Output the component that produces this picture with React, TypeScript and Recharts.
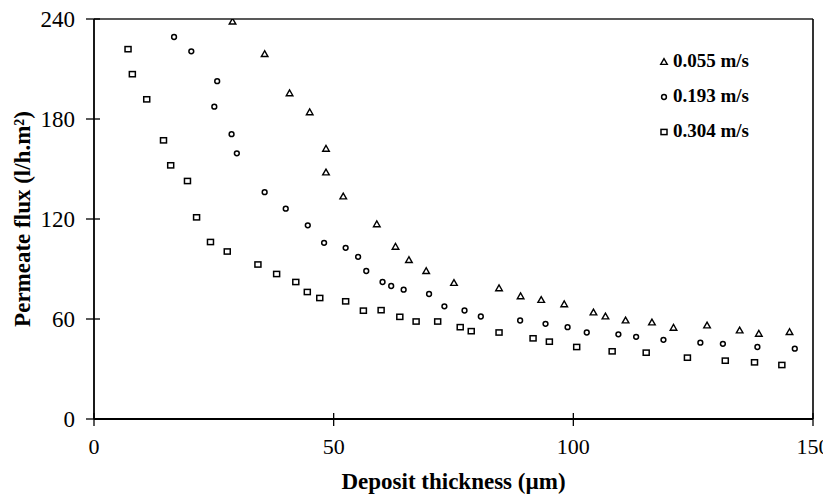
import React from 'react';
import { ScatterChart, Scatter, XAxis, YAxis, ReferenceLine, Legend } from 'recharts';

const xTicks = [0, 50, 100, 150];
const yTicks = [0, 60, 120, 180, 240];
const seriesNames = ['0.055 m/s', '0.193 m/s', '0.304 m/s'];

const v055X = [28.9, 35.6, 40.8, 45.0, 48.4, 48.4, 52.0, 59.0, 62.9, 65.7, 69.3, 75.1, 84.5, 89.0, 93.3, 98.1, 104.2, 106.7, 110.9, 116.4, 120.9, 127.9, 134.7, 138.7, 145.1];
const v055Y = [238.4, 218.9, 195.4, 184.0, 162.1, 147.9, 133.5, 116.8, 103.3, 95.3, 88.7, 81.6, 78.4, 73.6, 71.4, 68.8, 63.9, 61.5, 59.1, 57.9, 54.7, 56.1, 53.1, 51.1, 52.1];

const v193X = [16.7, 20.3, 25.7, 25.1, 28.7, 29.8, 35.6, 40.0, 44.6, 48.0, 52.5, 55.1, 56.8, 60.2, 62.0, 64.6, 69.9, 73.1, 77.3, 80.7, 88.9, 94.2, 98.8, 102.8, 109.4, 113.1, 118.8, 126.5, 131.2, 138.4, 146.2];
const v193Y = [229.2, 220.6, 202.7, 187.4, 170.9, 159.4, 136.1, 126.2, 116.2, 105.7, 102.7, 97.3, 88.8, 82.2, 79.8, 77.6, 75.0, 67.6, 65.1, 61.5, 59.1, 57.1, 55.1, 51.9, 50.8, 49.3, 47.5, 45.8, 45.1, 43.2, 42.2];

const v304X = [7.1, 8.0, 11.0, 14.5, 16.0, 19.5, 21.4, 24.3, 27.8, 34.2, 38.1, 42.1, 44.5, 47.1, 52.5, 56.2, 59.9, 63.8, 67.2, 71.7, 76.4, 78.7, 84.5, 91.6, 95.0, 100.7, 108.1, 115.2, 123.8, 131.7, 137.8, 143.5];
const v304Y = [221.9, 206.9, 191.8, 167.2, 152.2, 142.8, 121.0, 106.2, 100.5, 92.7, 87.0, 82.2, 76.2, 72.6, 70.6, 65.0, 65.3, 61.3, 58.5, 58.5, 55.1, 52.7, 51.9, 48.4, 46.4, 43.2, 40.6, 39.8, 36.8, 35.0, 34.0, 32.4];

const toPoints = (xs: number[], ys: number[]) => xs.map((x, i) => ({ x, y: ys[i] }));
const data055 = toPoints(v055X, v055Y);
const data193 = toPoints(v193X, v193Y);
const data304 = toPoints(v304X, v304Y);

const FONT = '"Liberation Serif", "Times New Roman", serif';

const Marker = ({ kind, cx, cy }: { kind: string; cx: number; cy: number }) => {
  if (kind === 'triangle') {
    return (
      <path
        d={`M${cx},${cy - 3.4} L${cx - 3.3},${cy + 2.4} L${cx + 3.3},${cy + 2.4} Z`}
        fill="none"
        stroke="#000"
        strokeWidth={1.4}
      />
    );
  }
  if (kind === 'circle') {
    return <circle cx={cx} cy={cy} r={2.4} fill="none" stroke="#000" strokeWidth={1.5} />;
  }
  return <rect x={cx - 3} y={cy - 2.6} width={6} height={5.2} fill="none" stroke="#000" strokeWidth={1.5} />;
};

const kindByName: Record<string, string> = {
  '0.055 m/s': 'triangle',
  '0.193 m/s': 'circle',
  '0.304 m/s': 'square',
};

const YTick = (props: any) => {
  const { x, y, payload } = props;
  return (
    <g>
      <line x1={x - 8} x2={x + 6} y1={y} y2={y} stroke="#000" strokeWidth={1.3} />
      <text x={x - 19} y={y} dy="0.35em" textAnchor="end" fontFamily={FONT} fontSize={23} fill="#000">
        {payload.value}
      </text>
    </g>
  );
};

const XTick = (props: any) => {
  const { x, y, payload } = props;
  return (
    <g>
      <line x1={x} x2={x} y1={y - 6} y2={y + 7} stroke="#000" strokeWidth={1.3} />
      <text x={x} y={y + 35} textAnchor="middle" fontFamily={FONT} fontSize={22} fill="#000">
        {payload.value}
      </text>
    </g>
  );
};

const LegendContent = (props: any) => {
  const payload = (props.payload || []) as any[];
  return (
    <svg width={140} height={100}>
      {payload.map((entry: any, i: number) => {
        const cy = 12 + i * 35;
        return (
          <g key={String(entry.value)}>
            <Marker kind={kindByName[String(entry.value)]} cx={8} cy={cy + 2} />
            <text x={17} y={cy} dy="0.35em" fontFamily={FONT} fontWeight="bold" fontSize={19} fill="#000">
              {entry.value}
            </text>
          </g>
        );
      })}
    </svg>
  );
};

export default function App() {
  return (
    <ScatterChart
      width={823}
      height={492}
      margin={{ top: 11, right: 18, left: 0, bottom: 0 }}
      style={{ fontFamily: FONT }}
    >
      <XAxis
        type="number"
        dataKey="x"
        domain={[0, 150]}
        ticks={xTicks}
        height={81}
        tickSize={0}
        tickMargin={0}
        tickLine={false}
        tick={<XTick />}
        axisLine={{ stroke: '#000', strokeWidth: 1.8 }}
        allowDataOverflow
        label={{
          value: 'Deposit  thickness (\u00b5m)',
          position: 'insideBottom',
          offset: 11,
          style: { fontFamily: FONT, fontWeight: 'bold', fontSize: 23, fill: '#000' },
        }}
      />
      <YAxis
        type="number"
        dataKey="y"
        domain={[0, 240]}
        ticks={yTicks}
        width={86}
        tickSize={0}
        tickMargin={0}
        tickLine={false}
        tick={<YTick />}
        axisLine={{ stroke: '#000', strokeWidth: 1.8 }}
        allowDataOverflow
        label={{
          value: 'Permeate flux (l/h.m\u00b2)',
          angle: -90,
          position: 'insideLeft',
          offset: 14,
          style: { textAnchor: 'middle', fontFamily: FONT, fontWeight: 'bold', fontSize: 23, fill: '#000' },
        }}
      />
      <ReferenceLine y={240} stroke="#222" strokeWidth={1.3} />
      <ReferenceLine x={150} stroke="#000" strokeWidth={1.6} />
      <Legend
        layout="vertical"
        align="center"
        verticalAlign="middle"
        content={<LegendContent />}
        wrapperStyle={{ left: 648, top: 40, width: 140, height: 100 }}
      />
      <Scatter
        name={seriesNames[0]}
        data={data055}
        fill="#000"
        isAnimationActive={false}
        shape={(p: any) => <Marker kind="triangle" cx={p.cx} cy={p.cy} />}
      />
      <Scatter
        name={seriesNames[1]}
        data={data193}
        fill="#000"
        isAnimationActive={false}
        shape={(p: any) => <Marker kind="circle" cx={p.cx} cy={p.cy} />}
      />
      <Scatter
        name={seriesNames[2]}
        data={data304}
        fill="#000"
        isAnimationActive={false}
        shape={(p: any) => <Marker kind="square" cx={p.cx} cy={p.cy} />}
      />
    </ScatterChart>
  );
}
